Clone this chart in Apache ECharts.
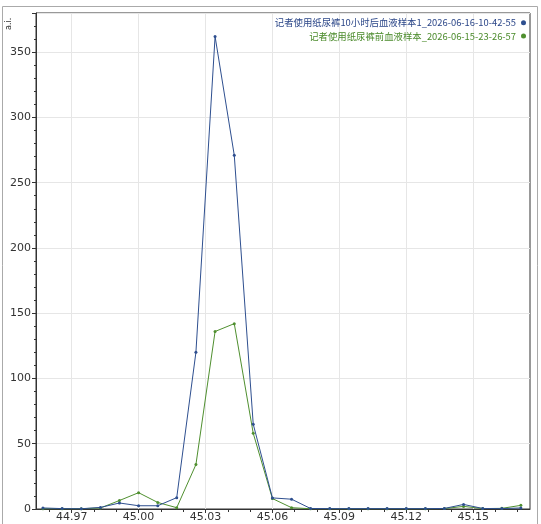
<!DOCTYPE html>
<html>
<head>
<meta charset="utf-8">
<script src="https://cdn.jsdelivr.net/npm/echarts@6/dist/echarts.min.js"></script>
<style>
  html, body { margin: 0; padding: 0; background: #fff; }
  #chart { width: 541px; height: 524px; }
</style>
</head>
<body>
<div id="chart"></div>
<script>
// m/z positions of the sampled points
const mz = [44.9571, 44.9657, 44.9743, 44.9829, 44.9914, 45.0000, 45.0086, 45.0171, 45.0257,
  45.0343, 45.0429, 45.0514, 45.0600, 45.0686, 45.0771, 45.0857, 45.0943, 45.1029, 45.1114,
  45.1200, 45.1286, 45.1371, 45.1457, 45.1543, 45.1629, 45.1714];

const afterValues = [0.8, 0.3, 0.2, 1.2, 4.6, 2.5, 2.5, 8.7, 120, 362, 271, 65, 8.5, 7.5,
  0.4, 0.3, 0.3, 0.3, 0.3, 0.3, 0.3, 0.4, 3.5, 0.4, 0.3, 0.8];
const beforeValues = [0.2, 0.2, 0.2, 0.8, 6.5, 12.5, 5, 1, 34, 136, 142, 58, 8, 1,
  0.2, 0.2, 0.2, 0.2, 0.2, 0.2, 0.2, 0.3, 2, 0.3, 0.5, 2.8];

const seriesNames = ['记者使用纸尿裤10小时后血液样本1_2026-06-16-10-42-55', '记者使用纸尿裤前血液样本_2026-06-15-23-26-57'];
const xTickLabels = [44.97, 45.00, 45.03, 45.06, 45.09, 45.12, 45.15];
const xMinorTicks = [44.96, 44.98, 44.99, 45.01, 45.02, 45.04, 45.05, 45.07, 45.08, 45.10, 45.11, 45.13, 45.14, 45.16, 45.17];

const colors = ['#2e4f8f', '#4f8f2f'];
const textColors = ['#2b4688', '#4a8a2a'];

const pairs = (vals) => vals.map((v, i) => [mz[i], v]);

const chart = echarts.init(document.getElementById('chart'));
const xBase = { type: 'value', min: 44.954, max: 45.1755, gridIndex: 0 };

chart.setOption({
  animation: false,
  grid: { left: 36, right: 11, top: 13, bottom: 15, show: true, borderColor: '#333', borderWidth: 1 },
  legend: {
    orient: 'vertical', right: 10, top: 13, itemGap: 4, align: 'right',
    icon: 'circle', itemWidth: 5, itemHeight: 5,
    textStyle: { fontSize: 9.4, fontFamily: 'Noto Sans CJK SC', padding: [0, 0, 0, 0] },
    data: seriesNames.map((n, i) => ({ name: n, textStyle: { color: textColors[i] } }))
  },
  xAxis: [
    Object.assign({}, xBase, {
      axisLine: { lineStyle: { color: '#333' } },
      axisTick: { length: 4, lineStyle: { color: '#333' }, customValues: xTickLabels },
      axisLabel: { customValues: xTickLabels, color: '#333', fontSize: 11, margin: 3,
        fontFamily: 'DejaVu Sans', formatter: (v) => v.toFixed(2) },
      splitLine: { show: true, lineStyle: { color: '#e6e6e6' } }
    }),
    Object.assign({}, xBase, {
      position: 'bottom',
      axisLine: { show: false },
      axisTick: { show: true, length: 3, lineStyle: { color: '#333' }, customValues: xMinorTicks },
      axisLabel: { show: false },
      splitLine: { show: false }
    })
  ],
  yAxis: {
    type: 'value', min: 0, max: 380, interval: 50,
    axisLine: { show: true, lineStyle: { color: '#333' } },
    axisTick: { show: true, length: 4, lineStyle: { color: '#333' } },
    minorTick: { show: true, splitNumber: 5, length: 2, lineStyle: { color: '#333' } },
    axisLabel: { color: '#333', fontSize: 11, margin: 5, fontFamily: 'DejaVu Sans', showMaxLabel: false },
    splitLine: { lineStyle: { color: '#e6e6e6' } }
  },
  graphic: [
    { type: 'rect', shape: { x: 2.5, y: 6.5, width: 535, height: 520 }, style: { fill: 'none', stroke: '#aaa' }, silent: true },
    { type: 'text', x: 5, y: 30, rotation: Math.PI / 2, style: { text: 'a.i.', fontSize: 8, fill: '#333', fontFamily: 'DejaVu Sans' } }
  ],
  series: [
    { name: seriesNames[0], type: 'line', data: pairs(afterValues), symbol: 'circle', symbolSize: 3,
      itemStyle: { color: colors[0] }, lineStyle: { width: 1, color: colors[0] }, z: 3 },
    { name: seriesNames[1], type: 'line', data: pairs(beforeValues), symbol: 'circle', symbolSize: 3,
      itemStyle: { color: colors[1] }, lineStyle: { width: 1, color: colors[1] }, z: 2 }
  ]
});
</script>
</body>
</html>
